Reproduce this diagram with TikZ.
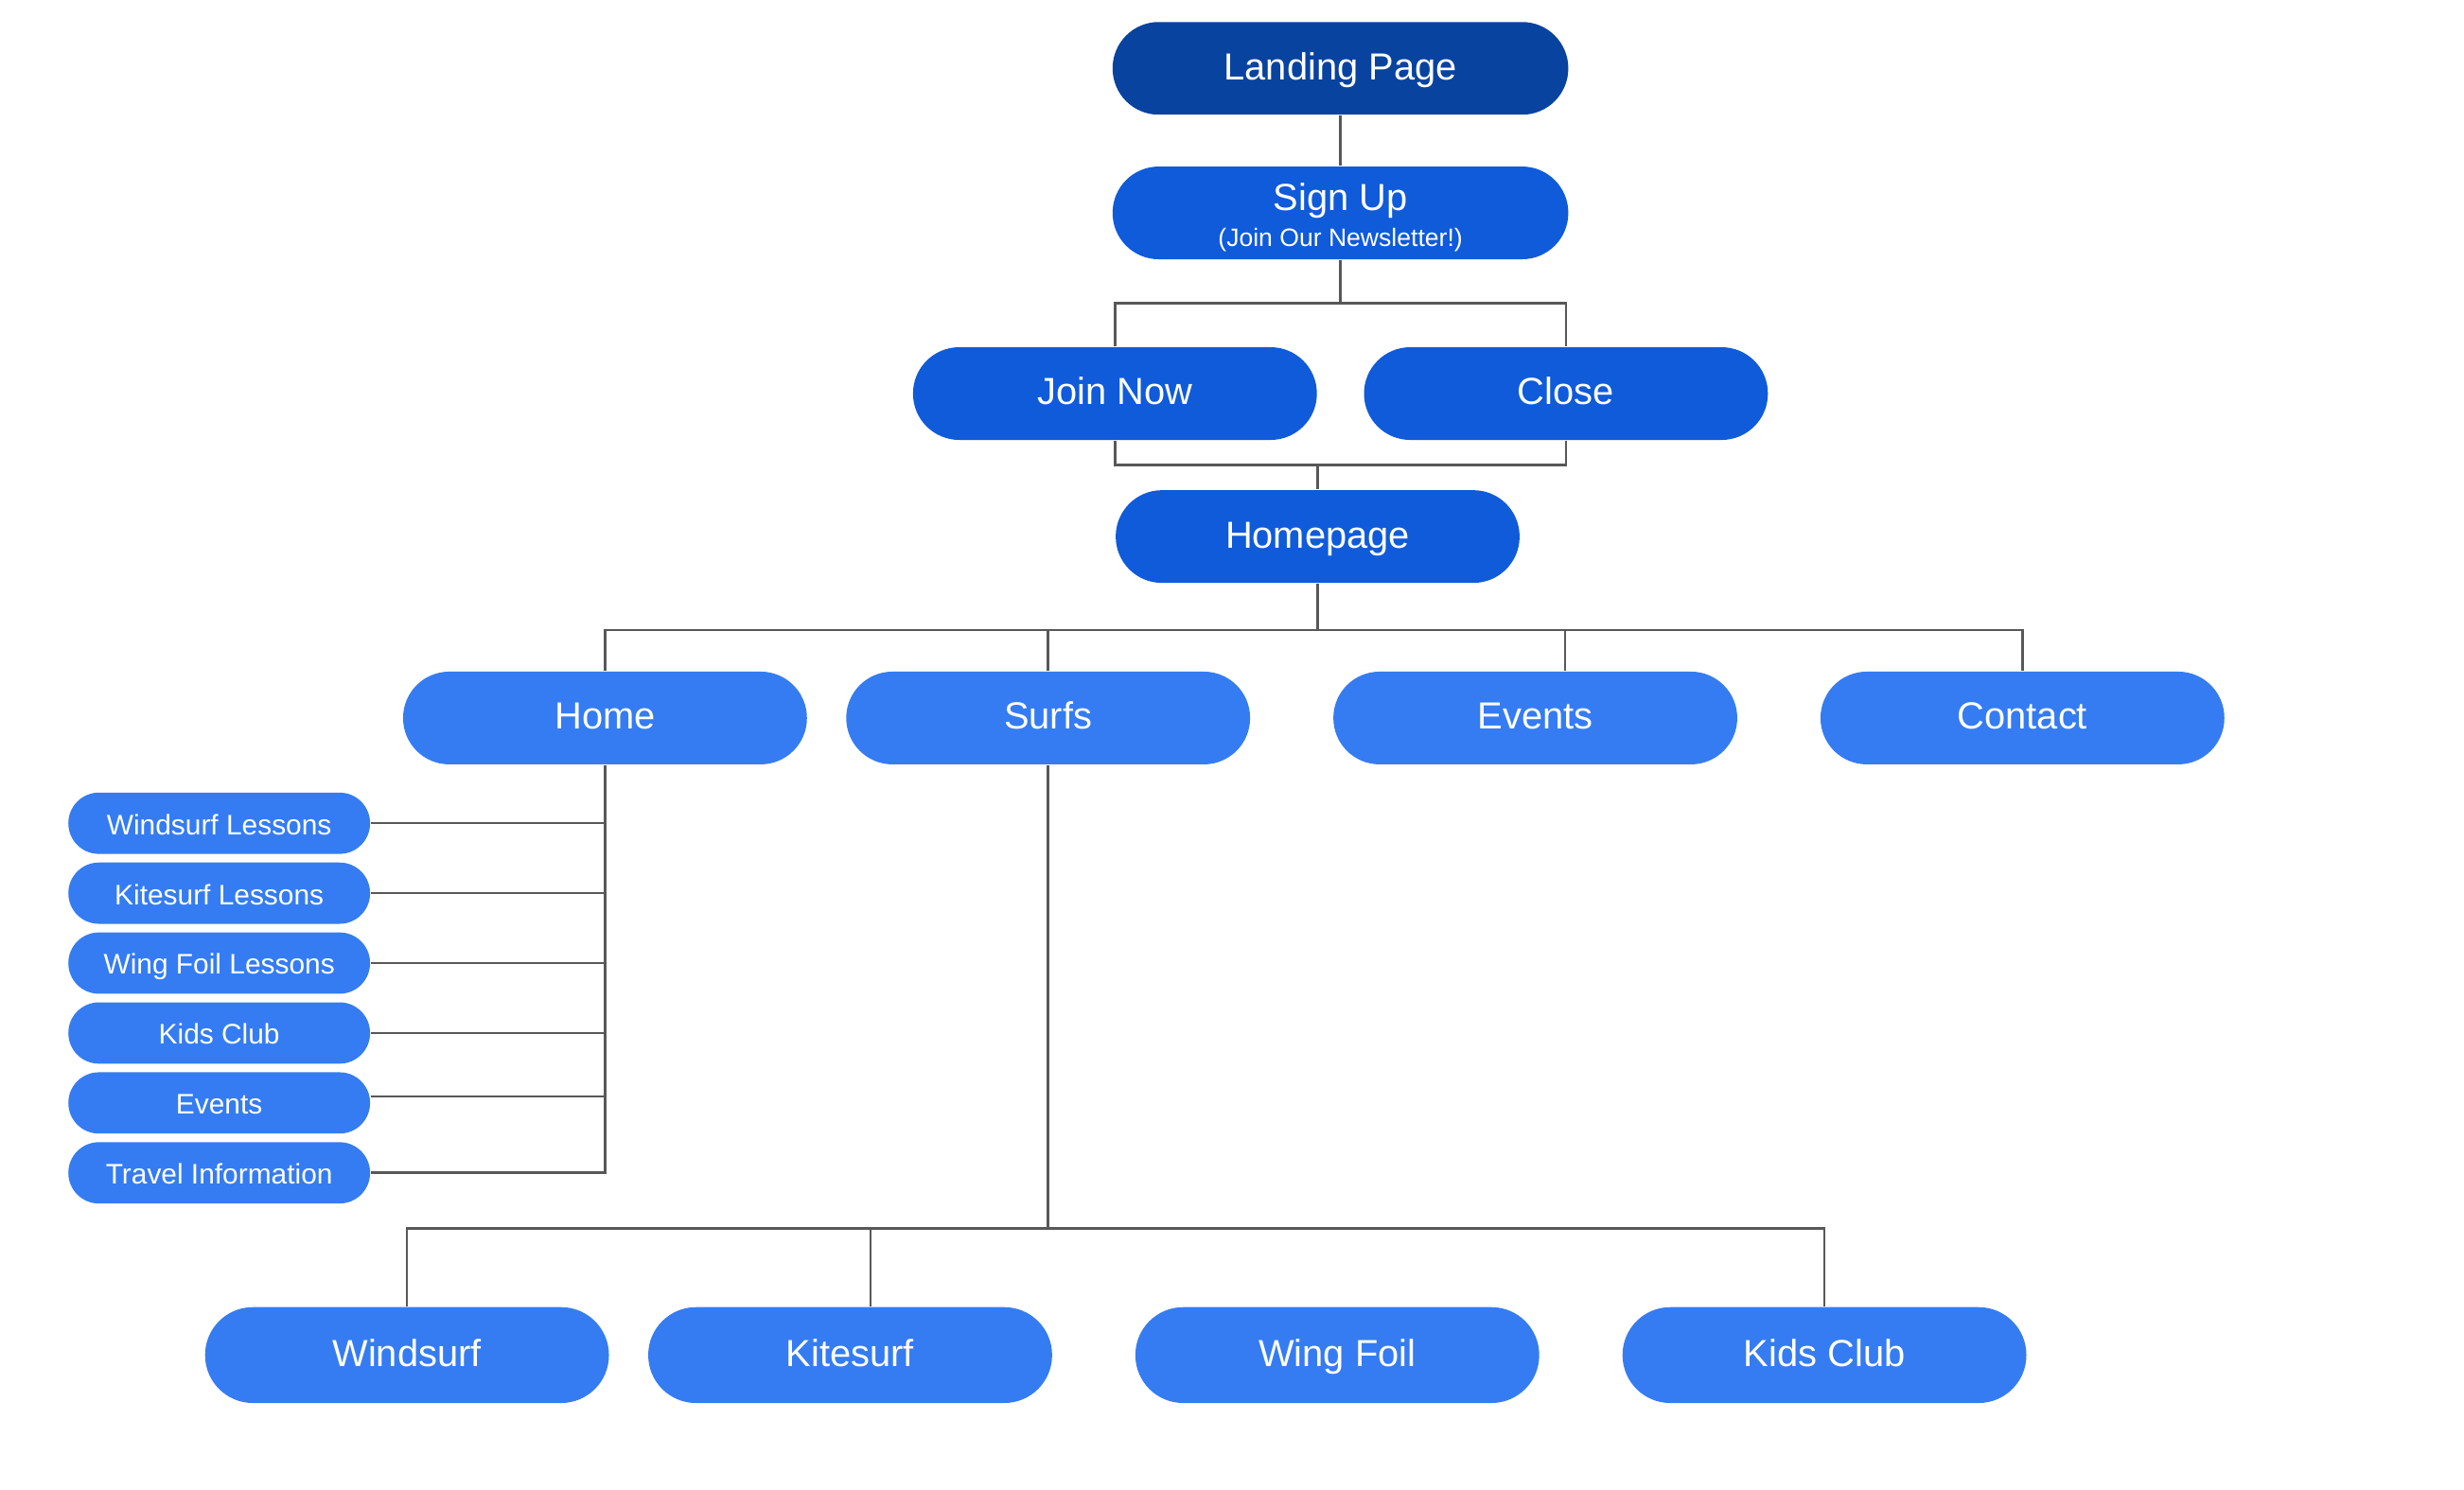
\documentclass[tikz,border=0pt]{standalone}
\usepackage{fontspec}
\setmainfont{Liberation Sans}
\begin{document}
\begin{tikzpicture}[x=0.5pt,y=-0.5pt,
  every node/.style={inner sep=0pt, text=white, align=center},
  capcentred/.style={text height=0.716em, text depth=0pt},
  pill/.style={minimum width=128.5pt, minimum height=29.5pt, rounded corners=14.7pt, font=\fontsize{12}{14}\selectfont, capcentred},
  toppill/.style={pill, fill=navyblue, minimum width=145pt},
  midpill/.style={pill, fill=midblue},
  lowpill/.style={pill, fill=lightblue},
  bottompill/.style={lowpill, minimum height=30.5pt, rounded corners=15.2pt},
  subpill/.style={fill=lightblue, minimum width=96pt, minimum height=19.5pt, rounded corners=9.7pt, font=\fontsize{9}{11}\selectfont, capcentred},
  link/.style={draw=linegray, line width=0.75pt}
]
\definecolor{navyblue}{RGB}{9,67,160}
\definecolor{midblue}{RGB}{15,91,218}
\definecolor{lightblue}{RGB}{53,124,242}
\definecolor{linegray}{RGB}{88,88,88}

\useasboundingbox (0,0) rectangle (1568,948);

% top of the flow
\node[toppill] (landing) at (853,43.5) {Landing Page};
\node[toppill, fill=midblue, text height=8.6pt, text depth=10.1pt,
  label={[font=\fontsize{8}{9}\selectfont, text=white, capcentred, yshift=-7pt]center:(Join Our Newsletter!)}]
  (signup) at (853,135.5) {Sign Up};
\node[midpill] (join) at (709.5,250.5) {Join Now};
\node[midpill] (close) at (996.5,250.5) {Close};
\node[midpill] (homepage) at (838.5,341.5) {Homepage};

% main sections
\node[lowpill] (home) at (385,457) {Home};
\node[lowpill] (surfs) at (667,457) {Surfs};
\node[lowpill] (events) at (977,457) {Events};
\node[lowpill] (contact) at (1287,457) {Contact};

% pages under Home
\node[subpill] (h1) at (139.5,524) {Windsurf Lessons};
\node[subpill] (h2) at (139.5,568.5) {Kitesurf Lessons};
\node[subpill] (h3) at (139.5,613) {Wing Foil Lessons};
\node[subpill] (h4) at (139.5,657.5) {Kids Club};
\node[subpill] (h5) at (139.5,702) {Events};
\node[subpill] (h6) at (139.5,746.5) {Travel Information};

% pages under Surfs
\node[bottompill] (windsurf) at (259,862.5) {Windsurf};
\node[bottompill] (kitesurf) at (541,862.5) {Kitesurf};
\node[bottompill] (wingfoil) at (851,862.5) {Wing Foil};
\node[bottompill] (kidsclub) at (1161,862.5) {Kids Club};

% junction points
\coordinate (bsign) at (853,193);
\coordinate (bjoin) at (838.5,296);
\coordinate (bhome) at (838.5,401);
\coordinate (bev) at (996,401);
\coordinate (hcorner) at (385,746.5);
\coordinate (bsurf) at (667,782);
\coordinate (bkite) at (554,782);

% connectors
\draw[link] (landing.south) -- (signup.north);
\draw[link] (signup.south) -- (bsign);
\draw[link] (join.north) |- (bsign) -| (close.north);
\draw[link] (join.south) |- (bjoin) -| (close.south);
\draw[link] (bjoin) -- (homepage.north);
\draw[link] (homepage.south) -- (bhome);
\draw[link] (home.north) |- (bhome) -| (contact.north);
\draw[link] (surfs.north) -- (surfs.north |- bhome);
\draw[link] (bev) -- (bev |- events.north);

\draw[link] (home.south) -- (hcorner) -- (h6.east);
\foreach \n in {h1,h2,h3,h4}
  \draw[link] (\n.east) -- (\n.east -| hcorner);
\draw[link] ([yshift=2pt]h5.east) -- ([yshift=2pt]h5.east -| hcorner);

\draw[link] (surfs.south) -- (bsurf);
\draw[link] (windsurf.north) |- (bsurf) -| (kidsclub.north);
\draw[link] (bkite) -- (bkite |- kitesurf.north);
\end{tikzpicture}
\end{document}
